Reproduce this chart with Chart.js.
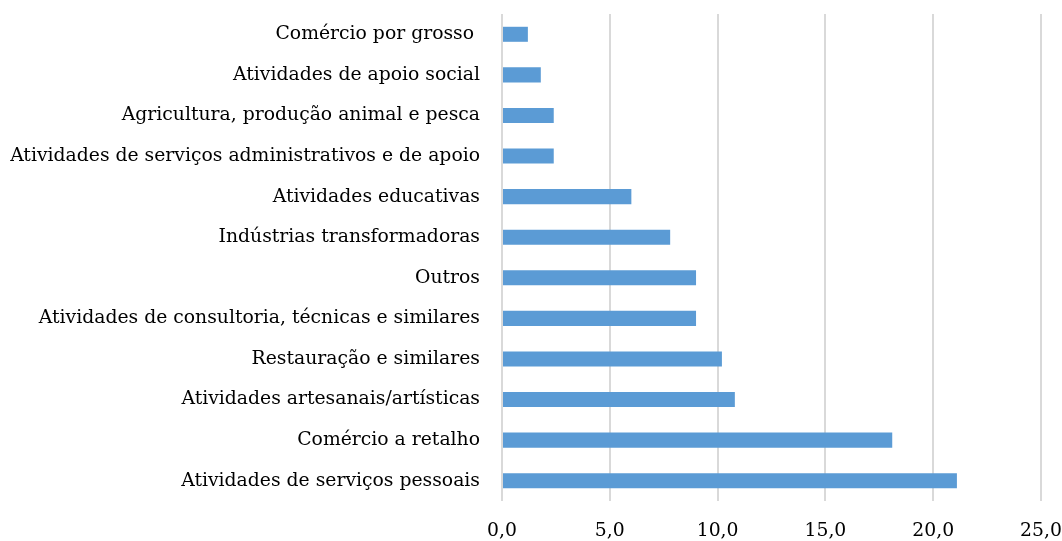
<!DOCTYPE html>
<html>
<head>
<meta charset="utf-8">
<title>Atividades</title>
<script src="https://cdn.jsdelivr.net/npm/chart.js@4/dist/chart.umd.min.js"></script>
<style>
    html, body { margin: 0; padding: 0; background: #fff; }
    #wrap { position: relative; width: 1062px; height: 541px; }
</style>
</head>
<body>
<div id="wrap"><canvas id="chart"></canvas></div>
<script>
// sectors, listed top to bottom
const sectors = [
    'Comércio por grosso ',
    'Atividades de apoio social',
    'Agricultura, produção animal e pesca',
    'Atividades de serviços administrativos e de apoio',
    'Atividades educativas',
    'Indústrias transformadoras',
    'Outros',
    'Atividades de consultoria, técnicas e similares',
    'Restauração e similares',
    'Atividades artesanais/artísticas',
    'Comércio a retalho',
    'Atividades de serviços pessoais'
];

// percentage per sector
const shares = [1.2, 1.8, 2.4, 2.4, 6.0, 7.8, 9.0, 9.0, 10.2, 10.8, 18.1, 21.1];

// x axis range
const xMin = 0;
const xMax = 25;
const xStep = 5;

const fontFamily = '"DejaVu Serif", serif';
const fontSize = 18.8;

// format as 0,0 / 5,0 ...
function fmt(v) {
    return Number(v).toFixed(1).replace('.', ',');
}

// drop the automatic label overhang so the layout padding alone sets the plot edges
function noOverhang(s) {
    s.paddingTop = 0;
    s.paddingBottom = 0;
    s.paddingLeft = 0;
    s.paddingRight = 0;
}

new Chart(document.getElementById('chart').getContext('2d'), {
    type: 'bar',
    data: {
        labels: sectors,
        datasets: [{
            data: shares,
            backgroundColor: '#5b9bd5',
            borderWidth: 0,
            categoryPercentage: 1,
            barPercentage: 0.37
        }]
    },
    options: {
        indexAxis: 'y',
        responsive: true,
        maintainAspectRatio: false,
        animation: false,
        layout: { padding: { top: 14, right: 21, bottom: 0, left: 0 } },
        plugins: {
            legend: { display: false },
            tooltip: { enabled: false }
        },
        scales: {
            x: {
                min: xMin,
                max: xMax,
                ticks: {
                    stepSize: xStep,
                    callback: v => fmt(v),
                    color: '#000',
                    padding: 19,
                    maxRotation: 0,
                    font: { family: fontFamily, size: fontSize }
                },
                grid: { color: '#d9d9d9', lineWidth: 2, drawTicks: false },
                border: { display: false },
                afterFit: s => { noOverhang(s); s.height = 40; }
            },
            y: {
                ticks: {
                    color: '#000',
                    padding: 22,
                    font: { family: fontFamily, size: fontSize }
                },
                grid: { display: false, drawTicks: false },
                border: { display: false },
                afterFit: s => { noOverhang(s); s.width = 502; }
            }
        }
    }
});
</script>
</body>
</html>
